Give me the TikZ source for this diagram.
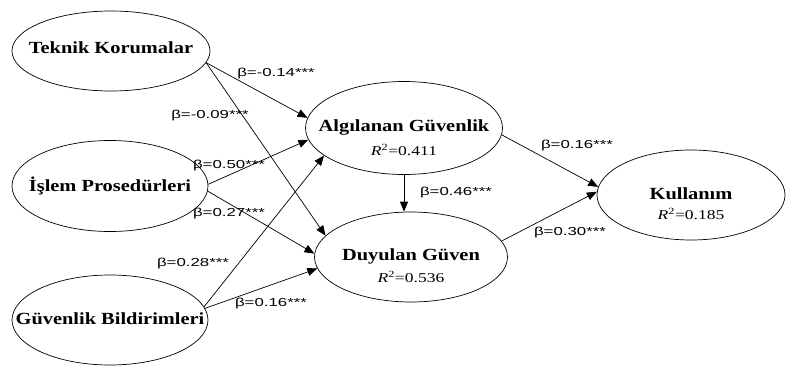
\documentclass[tikz,border=0pt]{standalone}
\usepackage{fontspec}
\setmainfont{Liberation Serif}
\newfontfamily\namefont[FakeStretch=1.2]{Liberation Serif}
\newfontfamily\coeffont[FakeStretch=1.45]{Liberation Sans}
\newfontfamily\rsqfont[FakeStretch=1.3]{Liberation Serif}
\usetikzlibrary{shapes.geometric,arrows.meta}

\begin{document}
\begin{tikzpicture}[x=1pt,y=-1pt,
	construct/.style={draw,ellipse,line width=0.7pt,inner sep=0pt},
	cname/.style={font=\namefont\bfseries\fontsize{17}{19}\selectfont,inner sep=0pt},
	rsq/.style={font=\rsqfont\fontsize{13.5}{15}\selectfont,inner sep=0pt},
	effect/.style={draw,line width=0.7pt,-{Triangle[length=10pt,width=8pt]}},
	coef/.style={font=\coeffont\fontsize{11.6}{13}\selectfont,inner sep=0pt}]
		\useasboundingbox (0,0) rectangle (786,372);

		% Security measures (left column)
		\node[construct,minimum width=198pt,minimum height=80pt] (tk) at (111,51) {};
		\node[construct,minimum width=196pt,minimum height=91pt] (ip) at (110,186) {};
		\node[construct,minimum width=196pt,minimum height=90pt] (gb) at (110,320) {};
		\node[cname] (tk-t) at (111,48) {Teknik Korumalar};
		\node[cname] (ip-t) at (110,186) {İşlem Prosedürleri};
		\node[cname] (gb-t) at (110,319) {Güvenlik Bildirimleri};

		% Mediators
		\node[construct,minimum width=197pt,minimum height=93pt] (ag) at (404,128) {};
		\node[construct,minimum width=193pt,minimum height=90pt] (dg) at (411,257) {};
		\node[cname] (ag-t) at (404,127) {Algılanan Güvenlik};
		\node[rsq] (ag-r) at (404,150) {\textit{R}\textsuperscript{2}=0.411};
		\node[cname] (dg-t) at (411,256) {Duyulan Güven};
		\node[rsq] (dg-r) at (411,277) {\textit{R}\textsuperscript{2}=0.536};

		% Outcome
		\node[construct,minimum width=188pt,minimum height=90pt] (ku) at (691,195) {};
		\node[cname] (ku-t) at (691,194) {Kullanım};
		\node[rsq] (ku-r) at (691,214) {\textit{R}\textsuperscript{2}=0.185};

		% paths from the left column
		\draw[effect] (tk.-7) -- (ag.174);
		\draw[effect] (tk.-7) -- (dg.166);
		\draw[effect] (ip.1) -- (ag.187);
		\draw[effect] (ip.-3) -- (dg.178);
		\draw[effect] (gb.8) -- (ag.199);
		\draw[effect] (gb.7) -- (dg.187);
		% paths between mediators and outcome
		\draw[effect] (ag.south) -- (ag.south |- dg.north);
		\draw[effect] (ag.-4) -- (ku.175);
		\draw[effect] (dg.10) -- (ku.178);

		% coefficients
		\node[coef] (c1) at (276,73) {β=-0.14***};
		\node[coef] (c2) at (210,115) {β=-0.09***};
		\node[coef] (c3) at (229,165) {β=0.50***};
		\node[coef] (c4) at (229,213) {β=0.27***};
		\node[coef] (c5) at (193,263) {β=0.28***};
		\node[coef] (c6) at (271,303) {β=0.16***};
		\node[coef] (c7) at (456,192) {β=0.46***};
		\node[coef] (c8) at (577,145) {β=0.16***};
		\node[coef] (c9) at (570,232) {β=0.30***};
	\end{tikzpicture}
\end{document}
